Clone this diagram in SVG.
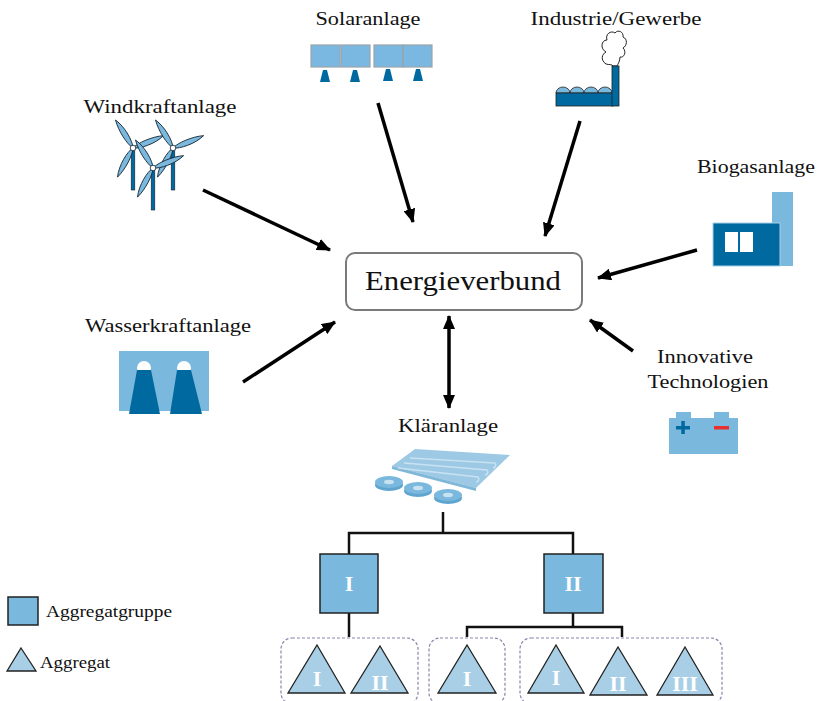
<svg xmlns="http://www.w3.org/2000/svg" width="823" height="701" viewBox="0 0 823 701">
  <style>
    .lbl { font-family: "Liberation Serif", "DejaVu Serif", serif; font-size: 19px; fill: #111; text-anchor: middle; }
    .leg { font-family: "Liberation Serif", "DejaVu Serif", serif; font-size: 16px; fill: #111; }
    .num { font-family: "Liberation Serif", "DejaVu Serif", serif; font-size: 22px; fill: #fff; text-anchor: middle; font-weight: bold; }
    .flow { stroke: #000; stroke-width: 3.5; fill: none; }
    .tree { stroke: #111; stroke-width: 2.5; fill: none; }
    .grp { fill: #7ab8de; stroke: #222; stroke-width: 1.5; }
    .agg { fill: #a8cfe5; stroke: #222; stroke-width: 1.3; }
    .box { fill: none; stroke: #8c82aa; stroke-width: 1.2; stroke-dasharray: 3 2; }
    .dark { fill: #00699f; }
    .light { fill: #7ab8de; }
    .blade { fill: #7ab8de; stroke: #12222e; stroke-width: 0.8; }
  </style>
  <defs>
    <marker id="head" viewBox="0 0 14 12" refX="13" refY="6" markerWidth="14" markerHeight="12" markerUnits="userSpaceOnUse" orient="auto-start-reverse">
      <path d="M0,0 L14,6 L0,12 Z" fill="#000"/>
    </marker>
    <path id="bl" d="M0,0 C3.5,-6 4.5,-22 0,-33 C-3.5,-22 -3,-6 0,0 Z"/>
    <g id="turbine">
      <rect x="-1.8" y="0" width="3.6" height="42" class="dark" stroke="#12222e" stroke-width="0.6"/>
      <use href="#bl" class="blade" transform="rotate(-32)"/>
      <use href="#bl" class="blade" transform="rotate(68)"/>
      <use href="#bl" class="blade" transform="rotate(208)"/>
      <circle r="2.8" fill="#fff" stroke="#12222e" stroke-width="0.8"/>
    </g>
  </defs>

  <!-- connectors -->
  <g id="connectors">
    <line class="flow" x1="203" y1="190" x2="330" y2="250" marker-end="url(#head)"/>
    <line class="flow" x1="378" y1="103" x2="413" y2="222" marker-end="url(#head)"/>
    <line class="flow" x1="580" y1="121" x2="545" y2="236" marker-end="url(#head)"/>
    <line class="flow" x1="697" y1="250" x2="598" y2="278" marker-end="url(#head)"/>
    <line class="flow" x1="243" y1="382" x2="335" y2="322" marker-end="url(#head)"/>
    <line class="flow" x1="633" y1="351" x2="590" y2="320" marker-end="url(#head)"/>
    <line class="flow" x1="449" y1="316" x2="449" y2="408" marker-start="url(#head)" marker-end="url(#head)"/>
    <!-- hierarchy lines -->
    <polyline class="tree" points="443,512 443,533"/>
    <polyline class="tree" points="349,554 349,533 573,533 573,554"/>
    <polyline class="tree" points="349,613 349,637"/>
    <polyline class="tree" points="573,613 573,627"/>
    <polyline class="tree" points="467,637 467,627 622,627 622,637"/>
  </g>

  <!-- central node -->
  <g id="energieverbund">
    <rect x="346" y="253" width="236" height="57" rx="9" fill="#fff" stroke="#7a7a7a" stroke-width="2"/>
    <text x="463" y="290" font-family="Liberation Serif, DejaVu Serif, serif" font-size="27" text-anchor="middle" fill="#111" textLength="196" lengthAdjust="spacingAndGlyphs">Energieverbund</text>
  </g>

  <!-- solar -->
  <g id="solaranlage">
    <text class="lbl" x="368" y="25" textLength="105" lengthAdjust="spacingAndGlyphs">Solaranlage</text>
    <g fill="#7ab8e2" stroke="#9aa3aa" stroke-width="1.2">
      <rect x="311" y="45" width="29" height="22"/>
      <rect x="341" y="45" width="29" height="22"/>
      <rect x="374" y="45" width="29" height="22"/>
      <rect x="403" y="45" width="29" height="22"/>
    </g>
    <g class="dark">
      <path d="M323,70 h4 l3,12 h-10 Z"/>
      <path d="M353,70 h4 l3,12 h-10 Z"/>
      <path d="M386,69 h4 l3,12 h-10 Z"/>
      <path d="M416,69 h4 l3,12 h-10 Z"/>
    </g>
  </g>

  <!-- industry -->
  <g id="industrie">
    <text class="lbl" x="616" y="25" textLength="171" lengthAdjust="spacingAndGlyphs">Industrie/Gewerbe</text>
    <path d="M606,64 C600,60 602,54 606,52 C600,49 601,40 607,40 C605,34 611,30 615,33 C618,29 624,32 623,37 C628,39 627,46 623,48 C627,52 624,58 620,57 C620,61 618,64 617,66 L613,66 C612,64 609,65 606,64 Z" fill="#fff" stroke="#222" stroke-width="1"/>
    <g fill="#7ab8de" stroke="#222" stroke-width="0.8">
      <path d="M556,93 a7,6 0 0 1 14,0 Z"/>
      <path d="M570,93 a7,6 0 0 1 14,0 Z"/>
      <path d="M584,93 a7,6 0 0 1 14,0 Z"/>
      <path d="M598,93 a7,6 0 0 1 14,0 Z"/>
    </g>
    <rect x="556" y="93" width="57" height="13" class="dark" stroke="#222" stroke-width="0.8"/>
    <rect x="612" y="66" width="7" height="40" class="dark" stroke="#222" stroke-width="0.8"/>
  </g>

  <!-- wind -->
  <g id="windkraftanlage">
    <text class="lbl" x="160" y="113" textLength="153" lengthAdjust="spacingAndGlyphs">Windkraftanlage</text>
    <use href="#turbine" transform="translate(133,148)"/>
    <use href="#turbine" transform="translate(173,148)"/>
    <use href="#turbine" transform="translate(153,168)"/>
  </g>

  <!-- biogas -->
  <g id="biogasanlage">
    <text class="lbl" x="756" y="173" textLength="118" lengthAdjust="spacingAndGlyphs">Biogasanlage</text>
    <rect x="772" y="192" width="21" height="74" class="light"/>
    <rect x="713" y="223" width="67" height="43" class="dark" stroke="#a9d0ea" stroke-width="1"/>
    <rect x="725" y="232" width="13" height="20" fill="#fff"/>
    <rect x="740" y="232" width="13" height="20" fill="#fff"/>
  </g>

  <!-- hydro -->
  <g id="wasserkraftanlage">
    <text class="lbl" x="168" y="332" textLength="166" lengthAdjust="spacingAndGlyphs">Wasserkraftanlage</text>
    <rect x="119" y="351" width="90" height="60" class="light"/>
    <circle cx="144" cy="368" r="7" fill="#fff"/>
    <circle cx="184" cy="368" r="7" fill="#fff"/>
    <path d="M137,370 h14 l9,44 h-31 Z" class="dark"/>
    <path d="M177,370 h14 l11,44 h-32 Z" class="dark"/>
  </g>

  <!-- battery -->
  <g id="innovative-technologien">
    <text class="lbl" x="705" y="363" textLength="96" lengthAdjust="spacingAndGlyphs">Innovative</text>
    <text class="lbl" x="708" y="388" textLength="121" lengthAdjust="spacingAndGlyphs">Technologien</text>
    <rect x="676" y="412" width="15" height="6" class="light"/>
    <rect x="714" y="412" width="15" height="6" class="light"/>
    <rect x="669" y="418" width="69" height="36" class="light"/>
    <rect x="676" y="426" width="14" height="3.5" class="dark"/>
    <rect x="681.3" y="421" width="3.5" height="13" class="dark"/>
    <rect x="714" y="426" width="15" height="3.5" fill="#e8312f"/>
  </g>

  <!-- treatment plant -->
  <g id="klaeranlage">
    <text class="lbl" x="448" y="432" textLength="100" lengthAdjust="spacingAndGlyphs">Kläranlage</text>
    <path d="M392,466 L415,449 L510,455 L476,488 Z" fill="#8cc0e0" opacity="0.85"/>
    <path d="M392,466 L476,488 L476,491 L392,469 Z" fill="#5fa5d0" opacity="0.8"/>
    <g fill="none" stroke="#c8e2f2" stroke-width="1.5">
      <path d="M410,458 L495,463 a3,3 0 0 1 -2,5"/>
      <path d="M404,463 L487,470 a3,3 0 0 1 -2,5"/>
      <path d="M398,468 L478,477 a3,3 0 0 1 -2,5"/>
    </g>
    <g fill="#7ab8de">
      <ellipse cx="389" cy="485" rx="14" ry="6" fill="#5fa5d0"/>
      <ellipse cx="389" cy="482" rx="14" ry="6"/>
      <ellipse cx="389" cy="482" rx="5" ry="2.2" fill="#c8e2f2"/>
      <ellipse cx="418" cy="491" rx="14" ry="6" fill="#5fa5d0"/>
      <ellipse cx="418" cy="488" rx="14" ry="6"/>
      <ellipse cx="418" cy="488" rx="5" ry="2.2" fill="#c8e2f2"/>
      <ellipse cx="448" cy="498" rx="14" ry="6" fill="#5fa5d0"/>
      <ellipse cx="448" cy="495" rx="14" ry="6"/>
      <ellipse cx="448" cy="495" rx="5" ry="2.2" fill="#c8e2f2"/>
    </g>
  </g>

  <!-- aggregate groups -->
  <g id="gruppe-1">
    <rect class="grp" x="320" y="554" width="58" height="59"/>
    <text class="num" x="349" y="591">I</text>
  </g>
  <g id="gruppe-2">
    <rect class="grp" x="544" y="554" width="59" height="59"/>
    <text class="num" x="573" y="591">II</text>
  </g>

  <!-- aggregates of group I -->
  <g id="aggregate-1">
    <rect class="box" x="281" y="638" width="137" height="66" rx="11"/>
    <path class="agg" d="M317,645 L345,693 L288,693 Z"/>
    <text class="num" x="317" y="686">I</text>
    <path class="agg" d="M380,646 L408,693 L351,693 Z"/>
    <text class="num" x="380" y="690">II</text>
  </g>

  <!-- aggregates of group II -->
  <g id="aggregate-2">
    <rect class="box" x="429" y="638" width="76" height="66" rx="11"/>
    <path class="agg" d="M467,645 L496,693 L438,693 Z"/>
    <text class="num" x="467" y="686">I</text>
  </g>
  <g id="aggregate-3">
    <rect class="box" x="520" y="638" width="202" height="66" rx="11"/>
    <path class="agg" d="M556,645 L584,693 L528,693 Z"/>
    <text class="num" x="556" y="685">I</text>
    <path class="agg" d="M618,647 L647,695 L590,695 Z"/>
    <text class="num" x="618" y="691">II</text>
    <path class="agg" d="M685,647 L713,695 L657,695 Z"/>
    <text class="num" x="685" y="691">III</text>
  </g>

  <!-- legend -->
  <g id="legende">
    <rect class="grp" x="8" y="597" width="30" height="28"/>
    <text class="leg" x="46" y="617" textLength="126" lengthAdjust="spacingAndGlyphs">Aggregatgruppe</text>
    <path class="agg" d="M21,648 L36,671 L7,671 Z"/>
    <text class="leg" x="40" y="668" textLength="70" lengthAdjust="spacingAndGlyphs">Aggregat</text>
  </g>
</svg>
